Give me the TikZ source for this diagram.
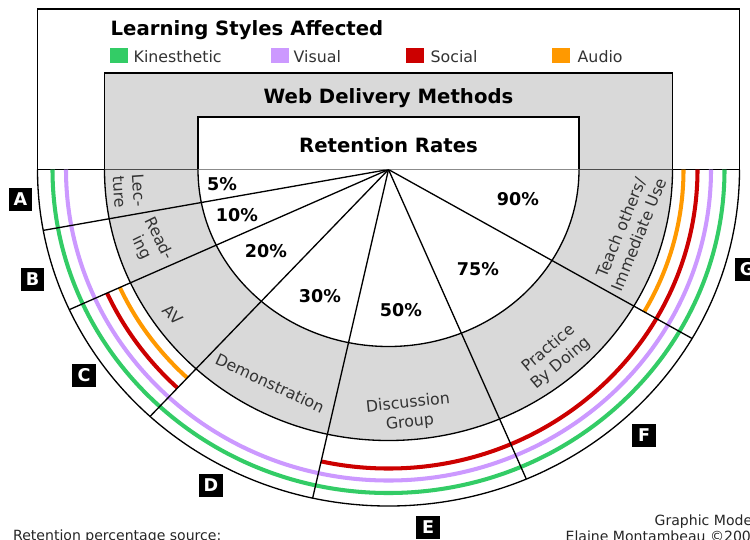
\documentclass[tikz,border=0pt]{standalone}
\usepackage{fontspec}
\setmainfont{DejaVu Sans}
\definecolor{kgreen}{HTML}{33CC66}
\definecolor{vpurple}{HTML}{CC99FF}
\definecolor{sred}{HTML}{CC0000}
\definecolor{aorange}{HTML}{FF9900}
\definecolor{boxgray}{HTML}{D9D9D9}
\definecolor{txtgray}{HTML}{333333}
\newcommand\lowarc[2]{(388.5-#1,169.5) arc[start angle=180,end angle=0,x radius=#1,y radius=#2]}
\newcommand\wedgeclip[2]{\clip (388.5,169.5) -- +(#1:800) -- +({(#1+#2)/2}:800) -- +(#2:800) -- cycle;}
\begin{document}
\begin{tikzpicture}[x=0.02cm,y=-0.02cm,line width=0.75pt,
  ring/.style={line width=2.3pt},
  heading/.style={font=\fontsize{11.2}{13}\selectfont\bfseries,text=black,inner sep=0pt},
  legtxt/.style={font=\fontsize{9}{11}\selectfont,text=txtgray,anchor=base west,inner sep=0pt},
  swatch/.style={minimum width=0.36cm,minimum height=0.31cm,inner sep=0pt,draw=none},
  pct/.style={font=\fontsize{10}{12}\selectfont\bfseries,text=black,inner sep=0pt},
  seclbl/.style={font=\fontsize{9}{11}\selectfont,text=txtgray,align=center,inner sep=0pt},
  lbox/.style={fill=black,text=white,font=\fontsize{10}{12}\selectfont\bfseries,minimum width=0.48cm,minimum height=0.46cm,inner sep=0pt},
  foot/.style={font=\fontsize{8}{10}\selectfont,text=black!85,anchor=base west,inner sep=0pt}]
\clip (0,0) rectangle (750,539);
\fill[white] (0,0) rectangle (750,539);
% top boxes
\draw[fill=white] (37.5,9) rectangle (739.5,169.5);
\draw[fill=boxgray] (104.5,73) rectangle (672.5,169.5);
\draw[fill=white] (198,117) rectangle (579,169.5);
% lower fills
\fill[boxgray] \lowarc{284}{271} -- cycle;
\fill[white] \lowarc{190.5}{177} -- cycle;
% coloured rings
\draw[ring,kgreen] \lowarc{336}{323.5};
\draw[ring,vpurple] \lowarc{322.5}{311};
\begin{scope}\wedgeclip{0}{103}\draw[ring,sred] \lowarc{309}{299};\end{scope}
\begin{scope}\wedgeclip{134}{156.3}\draw[ring,sred] \lowarc{309}{299};\draw[ring,aorange] \lowarc{295}{285};\end{scope}
\begin{scope}\wedgeclip{0}{29.1}\draw[ring,aorange] \lowarc{295}{285};\end{scope}
% spokes
\coordinate (C) at (388.5,169.5);
\begin{scope}
\clip \lowarc{351}{336.5} -- cycle;
\foreach \a in {29.1,66,103,134,156.3,170} \draw (C) -- +(\a:400);
\end{scope}
% outlines
\draw \lowarc{351}{336.5};
\draw \lowarc{284}{271};
\draw \lowarc{190.5}{177};
% headings and legend
\node[heading,anchor=base west] (title) at (110,35) {Learning Styles Affected};
\node[swatch,fill=kgreen] (swk) at (119,55.5) {};
\node[legtxt] (lk) at (133,62) {Kinesthetic};
\node[swatch,fill=vpurple] (swv) at (279.5,55.5) {};
\node[legtxt] (lv) at (293,62) {Visual};
\node[swatch,fill=sred] (sws) at (415,55.5) {};
\node[legtxt] (ls) at (430,62) {Social};
\node[swatch,fill=aorange] (swa) at (561,55.5) {};
\node[legtxt] (la) at (577,62) {Audio};
\node[heading,anchor=base] (web) at (388.5,103) {Web Delivery Methods};
\node[heading,anchor=base] (ret) at (388.5,152) {Retention Rates};
% percentages
\node[pct] (p5) at (222,184) {5\%};
\node[pct] (p10) at (237,215) {10\%};
\node[pct] (p20) at (266,251) {20\%};
\node[pct] (p30) at (320,296) {30\%};
\node[pct] (p50) at (401,310) {50\%};
\node[pct] (p75) at (478,269) {75\%};
\node[pct] (p90) at (518,199) {90\%};
% sector labels
\node[seclbl,rotate=-86] (lec) at (129,191) {Lec-\\ture};
\node[seclbl,rotate=-64] (rea) at (150,243) {Read-\\ing};
\node[seclbl,rotate=-45] (av) at (173,315) {AV};
\node[seclbl,rotate=-25] (dem) at (270,383) {Demonstration};
\node[seclbl,rotate=6] (dis) at (409,413) {Discussion\\Group};
\node[seclbl,rotate=40] (pra) at (555,356) {Practice\\By Doing};
\node[seclbl,rotate=68] (tea) at (630,231) {Teach others/\\Immediate Use};
% letter boxes
\node[lbox] (A) at (20.5,199.5) {A};
\node[lbox] (B) at (32.5,279) {B};
\node[lbox] (Cb) at (84,375) {C};
\node[lbox] (D) at (211,485) {D};
\node[lbox] (E) at (428,527) {E};
\node[lbox] (F) at (644,435) {F};
\node[lbox] (G) at (747,269.5) {G};
% footer
\node[foot] (src) at (12.5,540) {Retention percentage source:};
\node[foot] (gm) at (654,525) {Graphic Mode};
\node[foot] (em) at (565,541) {Elaine Montambeau ©200};
\end{tikzpicture}
\end{document}
